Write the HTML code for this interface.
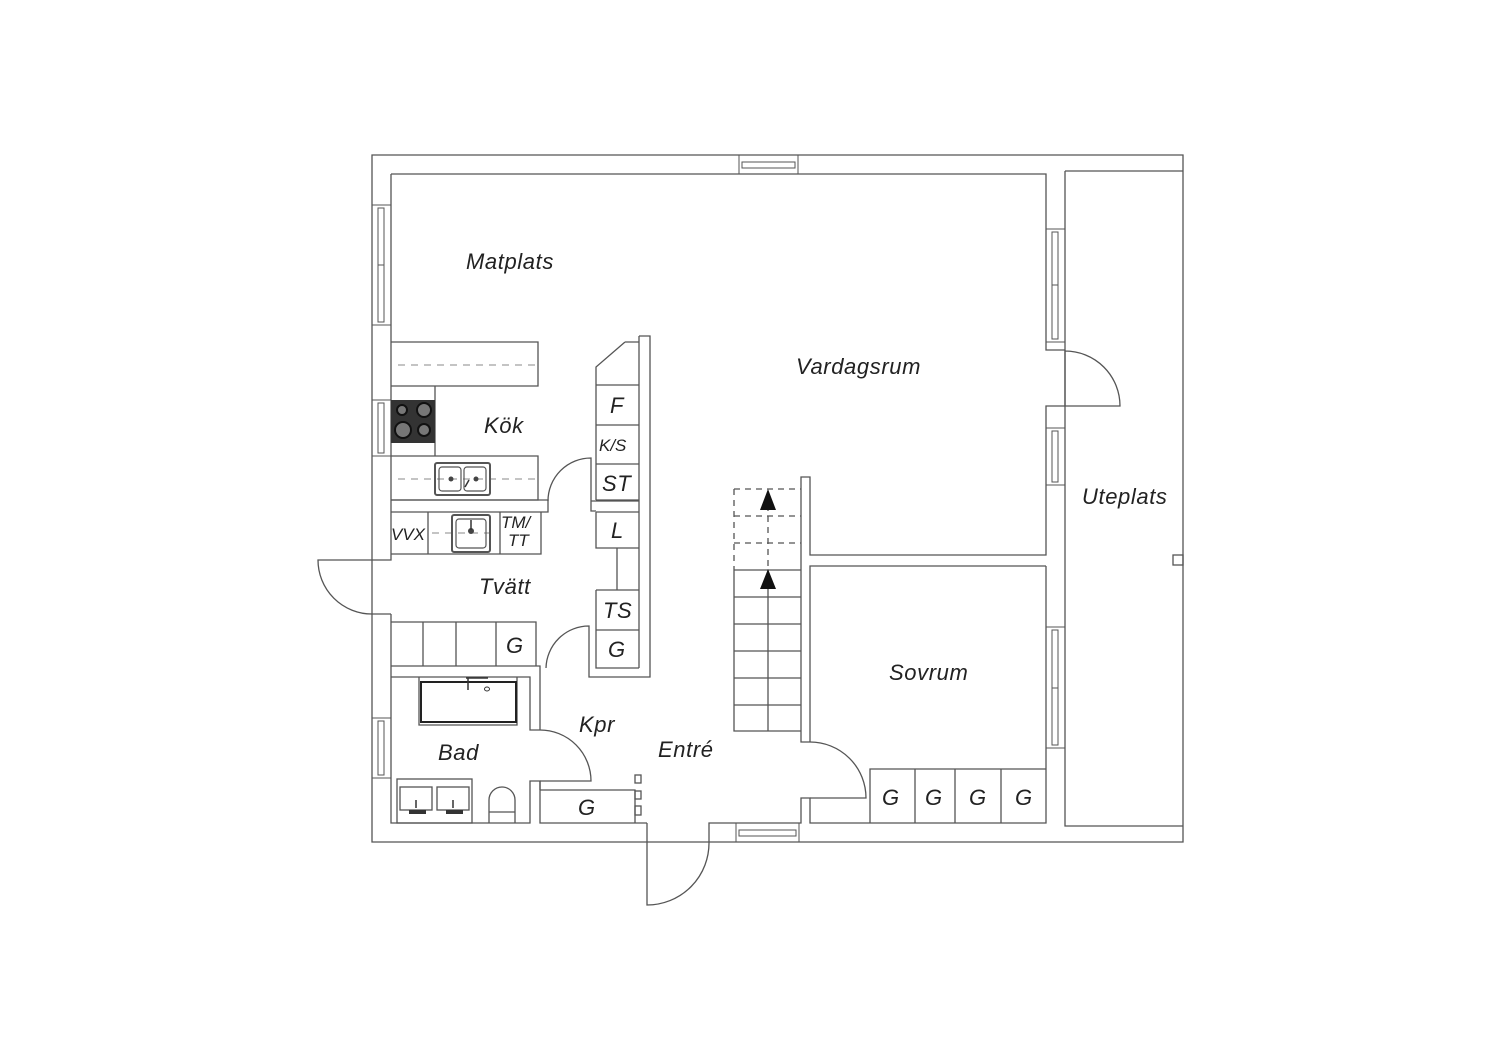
<!DOCTYPE html>
<html><head><meta charset="utf-8"><style>
html,body{margin:0;padding:0;background:#fff}
svg{display:block}
text{font-family:"Liberation Sans",sans-serif;font-style:italic;fill:#222}
</style></head><body>
<svg width="1500" height="1060" viewBox="0 0 1500 1060" xmlns="http://www.w3.org/2000/svg">
<g fill="none" stroke="#555" stroke-width="1.3">
<path d="M372,155 H1183 V842 H372 Z"/>
<path d="M391,174 H1046 V350 H1065"/>
<path d="M1065,406 H1046 V555 H810 V477 H801 V742 H810"/>
<path d="M1046,566 H810 V742"/>
<path d="M1065,171 H1183 M1065,171 V826 H1183"/>
<path d="M1046,566 V823 H810 V798 H801 V823 H709 V842"/>
<path d="M391,174 V560 H372 M391,614 H372 M391,614 V823 H530 V781 H540 V823 H647"/>
<g stroke-width="1">
<rect x="739" y="155" width="59" height="19"/><rect x="742" y="162" width="53" height="6"/>
<rect x="736" y="823" width="63" height="19"/><rect x="739" y="830" width="57" height="6"/>
<rect x="372" y="205" width="19" height="120"/><rect x="378" y="208" width="6" height="114"/><line x1="378" y1="265" x2="384" y2="265"/>
<rect x="372" y="400" width="19" height="56"/><rect x="378" y="403" width="6" height="50"/>
<rect x="372" y="718" width="19" height="60"/><rect x="378" y="721" width="6" height="54"/>
<rect x="1046" y="229" width="19" height="113"/><rect x="1052" y="232" width="6" height="107"/><line x1="1052" y1="285" x2="1058" y2="285"/>
<rect x="1046" y="428" width="19" height="57"/><rect x="1052" y="431" width="6" height="51"/>
<rect x="1046" y="627" width="19" height="121"/><rect x="1052" y="630" width="6" height="115"/><line x1="1052" y1="688" x2="1058" y2="688"/>
</g>
<path d="M372,560 H318 A54,54 0 0 0 372,614"/>
<path d="M1065,350 V406 H1120 A55,55 0 0 0 1065,351"/>
<path d="M647,823 V905 A62,62 0 0 0 709,842"/>
<path d="M810,742 A56,56 0 0 1 866,798 H810"/>
<path d="M591,501 V458 A43,43 0 0 0 548,501"/>
<path d="M589,668 V626 A43,43 0 0 0 546,668"/>
<path d="M540,730 A51,51 0 0 1 591,781 H540"/>
<path d="M391,342 H538 V386 H391"/>
<path d="M435,386 V456"/>
<path d="M391,456 H538 V500 H391"/>
<path d="M391,500 H548 V512 H391 M591,501 H639 M591,501 V511 H596"/>
<path d="M639,336 H650 V677 H589 V668"/>
<path d="M639,336 V668 M625,342 H639 M625,342 L596,367 V500 M596,385 H639 M596,425 H639 M596,464 H639 M596,500 H639"/>
<path d="M596,512 H639 M596,512 V548 H639 M617,548 V590 M596,590 H639 M596,590 V668 H639 M596,630 H639"/>
<path d="M391,554 H541 V512 M428,512 V554 M500,512 V554"/>
<path d="M391,622 H536 V666 H391 M423,622 V666 M456,622 V666 M496,622 V666 M391,666 H540 V730 M391,677 H530 V730 H540"/>
<path d="M419,677 V725 H517 V677"/>
<rect x="421" y="682" width="95" height="40" stroke="#222" stroke-width="2"/>
<rect x="397" y="779" width="75" height="44"/>
<rect x="400" y="787" width="32" height="23"/><rect x="437" y="787" width="32" height="23"/>
<path d="M489,823 V800 A13,13 0 0 1 515,800 V823 M489,812 H515"/>
<path d="M540,790 H635 V823 M540,781 V790"/>
<rect x="635" y="775" width="6" height="8"/><rect x="635" y="791" width="6" height="8"/><rect x="635" y="806" width="6" height="9"/>
<path d="M734,570 V731 H801 M734,570 H801 M734,597 H801 M734,624 H801 M734,651 H801 M734,678 H801 M734,705 H801 M768,570 V731"/>
<path stroke-dasharray="6,5" d="M734,489 H801 M734,516 H801 M734,543 H801 M734,489 V570 M768,505 V570"/>
<path d="M870,823 V769 H1046 M915,769 V823 M955,769 V823 M1001,769 V823"/>
<rect x="1173" y="555" width="10" height="10"/>
</g>
<g stroke="#888" stroke-width="1" stroke-dasharray="7,6" fill="none">
<path d="M398,365 H535 M398,479 H535 M432,533 H497"/>
</g>
<rect x="391" y="400" width="44" height="43" fill="#333"/>
<g fill="#777" stroke="#111" stroke-width="2"><circle cx="402" cy="410" r="5"/><circle cx="424" cy="410" r="7"/><circle cx="403" cy="430" r="8"/><circle cx="424" cy="430" r="6"/></g>
<g fill="none" stroke="#555" stroke-width="1.2">
<rect x="435" y="463" width="55" height="32" rx="2" stroke-width="2"/><rect x="439" y="467" width="22" height="24" rx="3"/><rect x="464" y="467" width="22" height="24" rx="3"/>
<rect x="452" y="515" width="38" height="37" rx="2" stroke-width="2"/><rect x="456" y="519" width="30" height="29" rx="3"/>
</g>
<circle cx="451" cy="479" r="2.5" fill="#444"/><circle cx="476" cy="479" r="2.5" fill="#444"/><circle cx="471" cy="531" r="3" fill="#444"/>
<path d="M465,487 L469,480" stroke="#333" stroke-width="1.5"/><path d="M471,520 V530" stroke="#333" stroke-width="1.5"/>
<path d="M468,678 V690 M466,678 H488" stroke="#333" stroke-width="1.5"/><ellipse cx="487" cy="689" rx="2.5" ry="2" fill="none" stroke="#333"/>
<path d="M416,800 V808 M453,800 V808" stroke="#333" stroke-width="1.5"/>
<rect x="409" y="810" width="17" height="4" fill="#333"/><rect x="446" y="810" width="17" height="4" fill="#333"/>
<path d="M768,489 L760,510 H776 Z M768,569 L760,589 H776 Z" fill="#111"/>
<g font-size="22" letter-spacing="0.6">
<text x="466" y="269">Matplats</text>
<text x="796" y="374">Vardagsrum</text>
<text x="484" y="433">Kök</text>
<text x="479" y="594">Tvätt</text>
<text x="438" y="760">Bad</text>
<text x="579" y="732">Kpr</text>
<text x="658" y="757">Entré</text>
<text x="889" y="680">Sovrum</text>
<text x="1082" y="504">Uteplats</text>
<text x="610" y="413">F</text>
<text x="602" y="491">ST</text>
<text x="611" y="538">L</text>
<text x="603" y="618">TS</text>
<text x="608" y="657">G</text>
<text x="506" y="653">G</text>
<text x="578" y="815">G</text>
<text x="882" y="805">G</text><text x="925" y="805">G</text><text x="969" y="805">G</text><text x="1015" y="805">G</text>
</g>
<g font-size="17">
<text x="599" y="451">K/S</text>
<text x="391" y="540">VVX</text>
<text x="501" y="528">TM/</text>
<text x="508" y="546">TT</text>
</g>
</svg>
</body></html>
